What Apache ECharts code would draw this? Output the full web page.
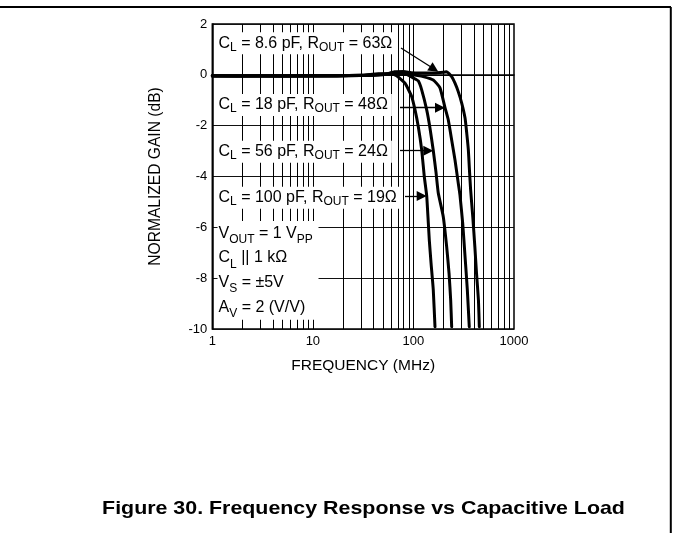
<!DOCTYPE html>
<html><head><meta charset="utf-8">
<script src="https://cdn.jsdelivr.net/npm/echarts@6/dist/echarts.min.js"></script>
<style>html,body{margin:0;padding:0;background:#fff}#c{width:673px;height:533px}</style>
</head><body><div id="c"></div>
<script>
const FONT = '"Liberation Sans", Arial, Helvetica, sans-serif';

// Axis ticks
const xTicks = [1, 10, 100, 1000];
const yTicks = [-10, -8, -6, -4, -2, 0, 2];
const gridFreqs = [2,3,4,5,6,7,8,9,10,20,30,40,50,60,70,80,90,100,200,300,400,500,600,700,800,900];

// Series: frequency (MHz) and normalized gain (dB)
const freq86 = [1, 3, 10, 30, 50, 65, 80, 95, 120, 160, 200, 214, 240, 259, 279, 302, 326, 339, 351.6, 359, 370, 389, 408, 424, 443, 452];
const gain86 = [-0.04, -0.05, -0.04, -0.03, 0.0, 0.12, 0.13, 0.08, 0.07, 0.07, 0.1, 0.12, -0.07, -0.33, -0.66, -1.11, -1.70, -2.30, -2.95, -3.61, -4.5, -5.58, -6.76, -7.81, -8.86, -9.91];

const freq18 = [1, 3, 10, 30, 50, 70, 90, 110, 125, 157.5, 183.7, 206, 222, 240, 259, 279, 290, 309, 326, 343.5, 359];
const gain18 = [-0.05, -0.04, -0.05, -0.03, 0.02, 0.05, 0.02, -0.03, -0.07, -0.2, -0.51, -1.29, -1.77, -2.56, -3.35, -4.26, -4.72, -5.84, -7.15, -8.46, -9.91];

const freq56 = [1, 3, 10, 30, 50, 70, 85, 99.5, 111.8, 120.8, 135.5, 146, 157.5, 167.5, 176.6, 198, 214, 226, 234.6, 240];
const gain56 = [-0.05, -0.05, -0.04, -0.02, 0.03, 0.08, 0.02, -0.12, -0.24, -0.59, -1.38, -2.09, -2.98, -3.82, -4.65, -5.58, -6.76, -7.81, -8.86, -9.91];

const freq100 = [1, 3, 10, 30, 45, 60, 68, 82.4, 96, 103.7, 111.8, 120.8, 128.2, 135.5, 140.6, 143.8, 149.6, 157.5, 163.8];
const gain100 = [-0.04, -0.05, -0.05, -0.02, 0.04, 0.03, -0.04, -0.33, -0.85, -1.38, -2.04, -2.95, -4.0, -4.76, -5.83, -6.5, -7.4, -8.46, -9.91];

// Annotation texts (rich text, subscripts in {s|...})
const labelTexts = [
  'C{s|L} = 8.6 pF, R{s|OUT} = 63Ω',
  'C{s|L} = 18 pF, R{s|OUT} = 48Ω',
  'C{s|L} = 56 pF, R{s|OUT} = 24Ω',
  'C{s|L} = 100 pF, R{s|OUT} = 19Ω'
];
const condTexts = ['V{s|OUT} = 1 V{s|PP}', 'C{s|L} || 1 kΩ', 'V{s|S} = ±5V', 'A{s|V} = 2 (V/V)'];

// Annotation anchors in data units [MHz, dB]
const labelAnchors = [[1.064, 1.239], [1.064, -1.188], [1.064, -3.025], [1.064, -4.835]];
const condAnchor = [1.114, -7.695];
const arrowStarts = [[75.2, 1.054], [73.5, -1.294], [73.5, -2.986], [82.4, -4.768]];
const arrowEnds = [[160.5, 0.228], [183.7, -1.294], [140.5, -2.986], [120.8, -4.768]];

const zip = (a, b) => a.map((v, i) => [v, b[i]]);

const chart = echarts.init(document.getElementById('c'), null, {renderer: 'canvas'});

const curveStyle = (name, f, g) => ({
  name, type: 'line', data: zip(f, g), z: 3, showSymbol: false, symbol: 'none',
  smooth: 0.15, silent: true,
  lineStyle: {color: '#000', width: 3, cap: 'round', join: 'round'}
});

const subStyle = (lh) => ({fontSize: 12, fontFamily: FONT, color: '#000', lineHeight: lh, verticalAlign: 'bottom'});

const singleLabel = (text, coord) => ({
  coord, symbol: 'rect', symbolSize: 1, itemStyle: {color: 'rgba(0,0,0,0)'},
  label: {
    show: true, position: 'right', distance: 0, formatter: text,
    color: '#000', fontFamily: FONT, fontSize: 16, lineHeight: 20,
    backgroundColor: '#fff', padding: [1, 4, 1, 3],
    rich: {s: subStyle(13)}
  }
});

const option = {
  animation: false,
  backgroundColor: '#fff',
  textStyle: {fontFamily: FONT},
  grid: {left: 212.3, top: 24, right: 159, bottom: 204, show: true, borderColor: '#000', borderWidth: 1.5, backgroundColor: 'transparent'},
  xAxis: {
    type: 'log', logBase: 10, min: 1, max: 1000,
    name: 'FREQUENCY (MHz)', nameLocation: 'middle', nameGap: 29,
    nameTextStyle: {color: '#000', fontSize: 15.5, fontFamily: FONT},
    axisLine: {show: true, lineStyle: {color: '#000', width: 1.5}},
    axisTick: {show: false},
    splitLine: {show: false},
    axisLabel: {color: '#000', fontSize: 13, fontFamily: FONT, margin: 6, showMinLabel: true, showMaxLabel: true,
      formatter: v => { const r = Math.round(v); return xTicks.indexOf(r) >= 0 ? String(r) : ''; }}
  },
  yAxis: {
    type: 'value', min: yTicks[0], max: yTicks[yTicks.length - 1], interval: 2,
    name: 'NORMALIZED GAIN (dB)', nameLocation: 'middle', nameGap: 49,
    nameTextStyle: {color: '#000', fontSize: 15.6, fontFamily: FONT},
    axisLine: {show: true, lineStyle: {color: '#000', width: 1.5}},
    axisTick: {show: false},
    splitLine: {show: true, lineStyle: {color: '#111', width: 1.2}},
    axisLabel: {color: '#000', fontSize: 13, fontFamily: FONT, margin: 5}
  },
  graphic: [
    {type: 'line', shape: {x1: 0, y1: 7, x2: 671, y2: 7}, style: {stroke: '#000', lineWidth: 2}, silent: true},
    {type: 'line', shape: {x1: 670.8, y1: 7, x2: 670.8, y2: 533}, style: {stroke: '#000', lineWidth: 2}, silent: true},
    {type: 'text', x: 363.5, y: 509, scaleX: 1.15, silent: true,
     style: {text: 'Figure 30. Frequency Response vs Capacitive Load', fill: '#000', font: 'bold 18.6px ' + FONT, textAlign: 'center', textVerticalAlign: 'middle'}}
  ],
  series: [
    {
      name: 'grid', type: 'line', data: [], silent: true, z: 1,
      markLine: {
        silent: true, z: 1, symbol: ['none', 'none'], animation: false,
        label: {show: false},
        lineStyle: {color: '#000', width: 1, type: 'solid'},
        data: gridFreqs.map(f => ({xAxis: f}))
      }
    },
    {
      name: 'labels', type: 'line', data: [], silent: true, z: 2,
      markPoint: {
        silent: true, z: 2, animation: false,
        data: labelTexts.map((t, i) => singleLabel(t, labelAnchors[i])).concat([{
          coord: condAnchor, symbol: 'rect', symbolSize: 1, itemStyle: {color: 'rgba(0,0,0,0)'},
          label: {
            show: true, position: 'right', distance: 0, formatter: condTexts.join('\n'),
            color: '#000', fontFamily: FONT, fontSize: 16, lineHeight: 24.7, width: 96,
            backgroundColor: '#fff', padding: [0, 4, 0, 1],
            rich: {s: subStyle(17.7)}
          }
        }])
      }
    },
    curveStyle('CL = 8.6 pF', freq86, gain86),
    curveStyle('CL = 18 pF', freq18, gain18),
    curveStyle('CL = 56 pF', freq56, gain56),
    curveStyle('CL = 100 pF', freq100, gain100),
    {
      name: 'arrows', type: 'line', data: [], silent: true, z: 4,
      markLine: {
        silent: true, z: 4, animation: false,
        symbol: ['none', 'triangle'], symbolSize: 10,
        label: {show: false},
        lineStyle: {color: '#000', width: 1.3, type: 'solid'},
        itemStyle: {color: '#000'},
        data: arrowStarts.map((s, i) => [{coord: s}, {coord: arrowEnds[i]}])
      }
    }
  ]
};
chart.setOption(option);
</script>
</body></html>
